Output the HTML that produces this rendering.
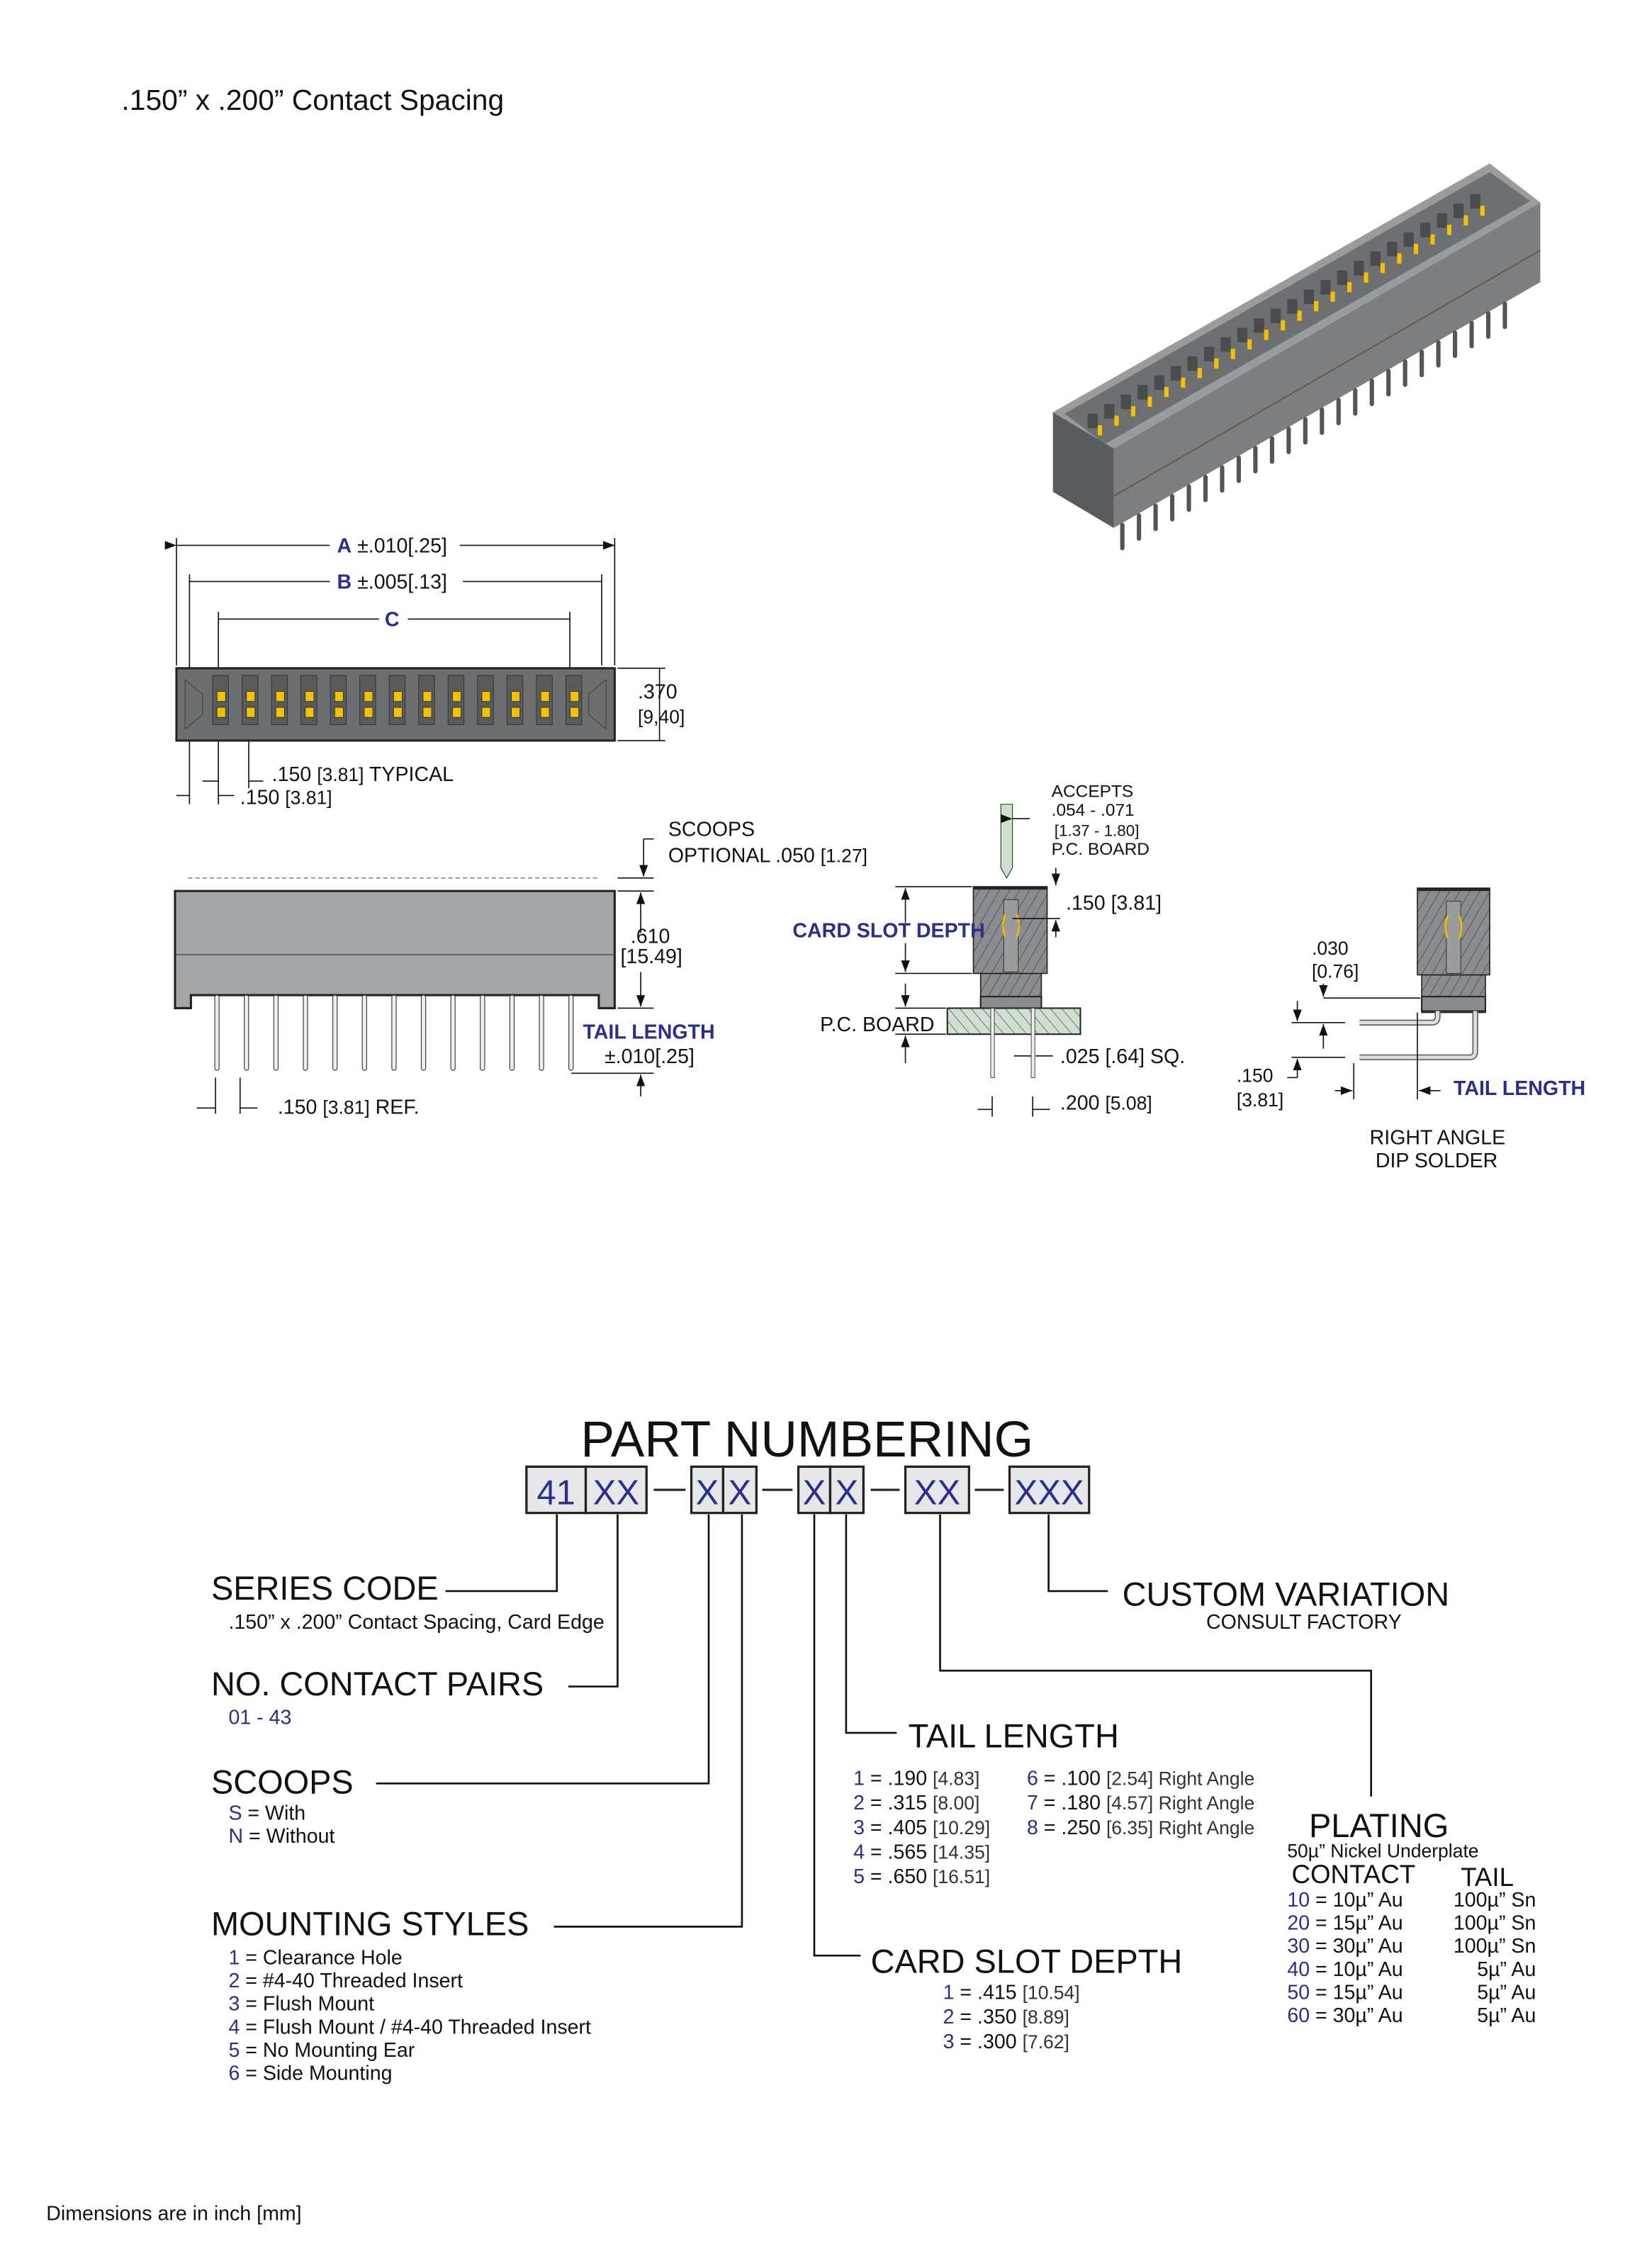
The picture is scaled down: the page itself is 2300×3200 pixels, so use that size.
<!DOCTYPE html>
<html><head><meta charset="utf-8"><style>
html,body{margin:0;padding:0;background:#fff;}
svg{display:block;}
text{font-family:"Liberation Sans",Arial,sans-serif;fill:#111;}
.b{fill:#2b2e8c;}
.n{font-family:"Liberation Sans Narrow","Liberation Sans",sans-serif;}
</style></head><body>
<svg width="2300" height="3200" viewBox="0 0 1127 1568" preserveAspectRatio="none" xmlns="http://www.w3.org/2000/svg">
<defs>
<marker id="ar" markerWidth="8" markerHeight="6" refX="8" refY="3" orient="auto" markerUnits="userSpaceOnUse"><path d="M0,0 L8,3 L0,6z" fill="#111"/></marker>
<pattern id="hatch" width="6" height="6" patternUnits="userSpaceOnUse" patternTransform="rotate(30)"><rect width="6" height="6" fill="#8a8c8f"/><line x1="0" y1="0" x2="0" y2="6" stroke="#333" stroke-width="0.6"/></pattern>
<pattern id="hatch2" width="6" height="6" patternUnits="userSpaceOnUse" patternTransform="rotate(-40)"><rect width="6" height="6" fill="#cfe0d0"/><line x1="0" y1="0" x2="0" y2="6" stroke="#333" stroke-width="0.6"/></pattern>
</defs>

<text x="84" y="76" font-size="20">.150” x .200” Contact Spacing</text>

<!-- 3D view -->
<g>
<polygon points="728,285 770,310 770,365 728,340" fill="#5a5b5d"/>
<polygon points="770,310 1065,140 1065,195 770,365" fill="#7d7e80"/>
<line x1="770" y1="343" x2="1065" y2="173" stroke="#555" stroke-width="0.8"/>
<polygon points="728,285 1030,113 1065,140 770,310" fill="#9a9b9d"/>
<polygon points="736,286 1030,119 1058,139 764,307" fill="#6e6f71"/>
<g id="pins3d" stroke="#555" stroke-width="3" stroke-linecap="round">
</g>
</g>
<script>
(function(){
 var g=document.getElementById('pins3d'),ns='http://www.w3.org/2000/svg';
 var svg=g.ownerSVGElement;
 for(var i=0;i<24;i++){
  var x=776+i*11.5,y=367-i*6.65;
  var l=document.createElementNS(ns,'line');
  l.setAttribute('x1',x);l.setAttribute('y1',y-4);l.setAttribute('x2',x);l.setAttribute('y2',y+12);g.appendChild(l);
 }
 for(var i=0;i<24;i++){
  var x=752+i*11.5,y=296-i*6.6;
  var r=document.createElementNS(ns,'rect');
  r.setAttribute('x',x);r.setAttribute('y',y-10);r.setAttribute('width',7);r.setAttribute('height',10);r.setAttribute('fill','#4a4b4d');svg.appendChild(r);
  var c=document.createElementNS(ns,'rect');
  c.setAttribute('x',x+7);c.setAttribute('y',y-2);c.setAttribute('width',3);c.setAttribute('height',7);c.setAttribute('fill','#f2c200');svg.appendChild(c);
 }
})();
</script>

<!-- Top view dims -->
<g stroke="#111" stroke-width="0.8" fill="none">
<line x1="122" y1="372" x2="122" y2="460"/><line x1="425" y1="372" x2="425" y2="460"/>
<line x1="122" y1="377" x2="228" y2="377" marker-start="url(#ar)"/>
<line x1="318" y1="377" x2="425" y2="377" marker-end="url(#ar)"/>
<line x1="131" y1="397" x2="131" y2="556"/><line x1="416" y1="397" x2="416" y2="460"/>
<line x1="131" y1="402" x2="228" y2="402"/><line x1="320" y1="402" x2="416" y2="402"/>
<line x1="151" y1="423" x2="151" y2="556"/><line x1="394" y1="423" x2="394" y2="470"/>
<line x1="151" y1="428" x2="262" y2="428"/><line x1="282" y1="428" x2="394" y2="428"/>
<line x1="427" y1="462" x2="460" y2="462"/><line x1="427" y1="512" x2="460" y2="512"/>
<line x1="456" y1="462" x2="456" y2="512"/>
<line x1="172" y1="505" x2="172" y2="545"/>
<line x1="140" y1="540" x2="151" y2="540"/><line x1="182" y1="540" x2="172" y2="540"/>
<line x1="122" y1="550" x2="131" y2="550"/><line x1="162" y1="550" x2="151" y2="550"/>
</g>
<text x="233" y="382" font-size="14"><tspan class="b" font-weight="bold">A</tspan> ±.010[.25]</text>
<text x="233" y="407" font-size="14"><tspan class="b" font-weight="bold">B</tspan> ±.005[.13]</text>
<text x="266" y="433" font-size="14" class="b" font-weight="bold">C</text>
<text x="441" y="483" font-size="14">.370</text>
<text x="441" y="500" font-size="13" class="n" fill="#333">[9,40]</text>
<text x="188" y="540" font-size="14">.150 <tspan class="n" font-size="13">[3.81]</tspan> TYPICAL</text>
<text x="166" y="556" font-size="14">.150 <tspan class="n" font-size="13">[3.81]</tspan></text>

<!-- Top view body -->
<rect x="122" y="462" width="303" height="50" fill="#6d6e70" stroke="#222" stroke-width="1.5"/>
<polygon points="128,470 140,480 140,494 128,504" fill="none" stroke="#444" stroke-width="0.6"/>
<polygon points="419,470 407,480 407,494 419,504" fill="none" stroke="#444" stroke-width="0.6"/>
<g id="tv"></g>
<script>
(function(){
 var g=document.getElementById('tv'),ns='http://www.w3.org/2000/svg';
 for(var i=0;i<13;i++){
  var x=147+i*20.35;
  var a=[[x,467,11,34,'#595a5c'],[x+3,478,6,7,'#f2c200'],[x+3,489,6,7,'#f2c200']];
  a.forEach(function(p){var r=document.createElementNS(ns,'rect');r.setAttribute('x',p[0]);r.setAttribute('y',p[1]);r.setAttribute('width',p[2]);r.setAttribute('height',p[3]);r.setAttribute('fill',p[4]);r.setAttribute('stroke','#333');r.setAttribute('stroke-width','0.5');g.appendChild(r);});
 }
})();
</script>

<!-- Side view -->
<line x1="130" y1="607" x2="413" y2="607" stroke="#888" stroke-width="0.8" stroke-dasharray="3,2"/>
<path d="M121,616 H425 V697 H414 V688 H132 V697 H121 Z" fill="#a3a5a7" stroke="#222" stroke-width="1.5"/>
<line x1="121" y1="660" x2="425" y2="660" stroke="#333" stroke-width="0.6"/>
<g id="sv"></g>
<script>
(function(){
 var g=document.getElementById('sv'),ns='http://www.w3.org/2000/svg';
 for(var i=0;i<13;i++){
  var x=150+i*20.4;
  var r=document.createElementNS(ns,'rect');r.setAttribute('x',x-1.5);r.setAttribute('y',688);r.setAttribute('width',3);r.setAttribute('height',52);r.setAttribute('rx',1.5);r.setAttribute('fill','#eee');r.setAttribute('stroke','#444');r.setAttribute('stroke-width','0.6');g.appendChild(r);
 }
})();
</script>
<g stroke="#111" stroke-width="0.8" fill="none">
<line x1="427" y1="607" x2="452" y2="607"/><line x1="427" y1="616" x2="452" y2="616"/>
<line x1="445" y1="580" x2="445" y2="606" marker-end="url(#ar)"/><line x1="445" y1="580" x2="452" y2="580"/>
<line x1="443" y1="645" x2="443" y2="617" marker-end="url(#ar)"/>
<line x1="443" y1="672" x2="443" y2="696" marker-end="url(#ar)"/>
<line x1="427" y1="697" x2="452" y2="697"/>
<line x1="395" y1="742" x2="452" y2="742"/>
<line x1="443" y1="758" x2="443" y2="743" marker-end="url(#ar)"/>
<line x1="149" y1="745" x2="149" y2="770"/><line x1="166" y1="745" x2="166" y2="770"/>
<line x1="136" y1="766" x2="149" y2="766"/><line x1="178" y1="766" x2="166" y2="766"/>
</g>
<text x="462" y="578" font-size="14">SCOOPS</text>
<text x="462" y="596" font-size="14">OPTIONAL .050 <tspan class="n" font-size="13">[1.27]</tspan></text>
<text x="436" y="652" font-size="14">.610</text>
<text x="429" y="666" font-size="14">[15.49]</text>
<text x="403" y="718" font-size="14" class="b" font-weight="bold">TAIL LENGTH</text>
<text x="418" y="735" font-size="14">±.010[.25]</text>
<text x="192" y="770" font-size="14">.150 <tspan class="n" font-size="13">[3.81]</tspan> REF.</text>

<!-- Card slot section -->
<path d="M692,556 H700 V600 L696,607 L692,600 Z" fill="#cfe0d0" stroke="#444" stroke-width="0.6"/>
<rect x="655" y="697" width="92" height="18" fill="url(#hatch2)" stroke="#222" stroke-width="1"/>
<rect x="678" y="673" width="42" height="18" fill="url(#hatch)" stroke="#222" stroke-width="0.8"/>
<rect x="678" y="689" width="42" height="8" fill="#8a8c8f" stroke="#222" stroke-width="1"/>
<rect x="673" y="613" width="51" height="60" fill="url(#hatch)" stroke="#222" stroke-width="0.8"/>
<line x1="673" y1="614" x2="724" y2="614" stroke="#222" stroke-width="2"/>
<rect x="694" y="622" width="10" height="50" fill="#9a9b9d" stroke="#333" stroke-width="0.5"/>
<path d="M695,632 Q692,640 695,648 M703,632 Q706,640 703,648" stroke="#f2c200" stroke-width="1.2" fill="none"/>
<rect x="685" y="697" width="2.5" height="48" fill="#eee" stroke="#444" stroke-width="0.5"/>
<rect x="713" y="697" width="2.5" height="48" fill="#eee" stroke="#444" stroke-width="0.5"/>
<g stroke="#111" stroke-width="0.8" fill="none">
<line x1="700" y1="566" x2="712" y2="566" marker-start="url(#ar)"/>
<line x1="619" y1="613" x2="672" y2="613"/><line x1="619" y1="673" x2="672" y2="673"/>
<line x1="626" y1="638" x2="626" y2="614" marker-end="url(#ar)"/><line x1="626" y1="652" x2="626" y2="672" marker-end="url(#ar)"/>
<line x1="730" y1="600" x2="730" y2="612" marker-end="url(#ar)"/>
<line x1="700" y1="635" x2="733" y2="635"/><line x1="730" y1="648" x2="730" y2="636" marker-end="url(#ar)"/>
<line x1="619" y1="697" x2="654" y2="697"/><line x1="619" y1="715" x2="654" y2="715"/>
<line x1="626" y1="680" x2="626" y2="696" marker-end="url(#ar)"/><line x1="626" y1="735" x2="626" y2="716" marker-end="url(#ar)"/>
<line x1="686" y1="758" x2="686" y2="772"/><line x1="714" y1="758" x2="714" y2="772"/>
<line x1="676" y1="767" x2="686" y2="767"/><line x1="726" y1="767" x2="714" y2="767"/>
<line x1="701" y1="730" x2="713" y2="730"/><line x1="728" y1="730" x2="716" y2="730"/>
</g>
<text x="727" y="551" font-size="12">ACCEPTS</text>
<text x="727" y="564" font-size="12">.054 - .071</text>
<text x="729" y="578" font-size="11" class="n">[1.37 - 1.80]</text>
<text x="727" y="591" font-size="12">P.C. BOARD</text>
<text x="737" y="629" font-size="14">.150 <tspan class="n">[3.81]</tspan></text>
<text x="548" y="648" font-size="14" class="b" font-weight="bold">CARD SLOT DEPTH</text>
<text x="567" y="713" font-size="14">P.C. BOARD</text>
<text x="733" y="735" font-size="14">.025 <tspan class="n">[.64]</tspan> SQ.</text>
<text x="733" y="767" font-size="14">.200 <tspan class="n" font-size="13">[5.08]</tspan></text>

<!-- Right angle -->
<rect x="983" y="674" width="44" height="26" fill="url(#hatch)" stroke="#222" stroke-width="0.8"/>
<rect x="983" y="689" width="44" height="10" fill="#8a8c8f" stroke="#222" stroke-width="1"/>
<rect x="980" y="614" width="50" height="60" fill="url(#hatch)" stroke="#222" stroke-width="0.8"/>
<line x1="980" y1="615" x2="1030" y2="615" stroke="#222" stroke-width="2"/>
<rect x="1000" y="623" width="10" height="50" fill="#9a9b9d" stroke="#333" stroke-width="0.5"/>
<path d="M1001,633 Q998,641 1001,649 M1009,633 Q1012,641 1009,649" stroke="#f2c200" stroke-width="1.2" fill="none"/>
<path d="M940,707 H990 Q994,707 994,703 V699" stroke="#555" stroke-width="4" fill="none"/>
<path d="M940,707 H990 Q994,707 994,703 V699" stroke="#ddd" stroke-width="2.5" fill="none"/>
<path d="M940,731 H1016 Q1020,731 1020,727 V699" stroke="#555" stroke-width="4" fill="none"/>
<path d="M940,731 H1016 Q1020,731 1020,727 V699" stroke="#ddd" stroke-width="2.5" fill="none"/>
<g stroke="#111" stroke-width="0.8" fill="none">
<line x1="915" y1="690" x2="982" y2="690"/>
<line x1="915" y1="680" x2="915" y2="689" marker-end="url(#ar)"/>
<line x1="893" y1="707" x2="930" y2="707"/><line x1="893" y1="731" x2="930" y2="731"/>
<line x1="897" y1="692" x2="897" y2="706" marker-end="url(#ar)"/>
<line x1="915" y1="725" x2="915" y2="708" marker-end="url(#ar)"/>
<line x1="897" y1="745" x2="897" y2="732" marker-end="url(#ar)"/><line x1="890" y1="745" x2="897" y2="745"/>
<line x1="936" y1="735" x2="936" y2="760"/><line x1="980" y1="700" x2="980" y2="760"/>
<line x1="923" y1="754" x2="935" y2="754" marker-end="url(#ar)"/>
<line x1="996" y1="754" x2="981" y2="754" marker-end="url(#ar)"/>
</g>
<text x="907" y="660" font-size="13">.030</text>
<text x="907" y="676" font-size="13" class="n">[0.76]</text>
<text x="855" y="748" font-size="13">.150</text>
<text x="855" y="765" font-size="13" class="n">[3.81]</text>
<text x="1005" y="757" font-size="14" class="b" font-weight="bold">TAIL LENGTH</text>
<text x="947" y="791" font-size="14">RIGHT ANGLE</text>
<text x="951" y="807" font-size="14">DIP SOLDER</text>

<!-- PART NUMBERING -->
<text x="558" y="1007" font-size="35" text-anchor="middle">PART NUMBERING</text>
<g stroke="#222" stroke-width="1.6" fill="#e6e7e8">
<rect x="364" y="1014" width="41" height="32"/><rect x="405" y="1014" width="42" height="32"/>
<rect x="478" y="1014" width="22" height="32"/><rect x="500" y="1014" width="23" height="32"/>
<rect x="552" y="1014" width="22" height="32"/><rect x="574" y="1014" width="23" height="32"/>
<rect x="626" y="1014" width="44" height="32"/>
<rect x="698" y="1014" width="55" height="32"/>
</g>
<g stroke="#222" stroke-width="1.5">
<line x1="452" y1="1030" x2="474" y2="1030"/><line x1="527" y1="1030" x2="548" y2="1030"/>
<line x1="602" y1="1030" x2="622" y2="1030"/><line x1="674" y1="1030" x2="694" y2="1030"/>
</g>
<g font-size="24" class="b" text-anchor="middle">
<text x="384.5" y="1040" class="b n">41</text><text x="426" y="1040" class="b n">XX</text>
<text x="489" y="1040" class="b n">X</text><text x="511.5" y="1040" class="b n">X</text>
<text x="563" y="1040" class="b n">X</text><text x="585.5" y="1040" class="b n">X</text>
<text x="648" y="1040" class="b n">XX</text><text x="725.5" y="1040" class="b n">XXX</text>
</g>
<g stroke="#111" stroke-width="1.3" fill="none">
<polyline points="385,1047 385,1100 308,1100"/>
<polyline points="427,1047 427,1166 393,1166"/>
<polyline points="490,1047 490,1233 260,1233"/>
<polyline points="513,1047 513,1332 383,1332"/>
<polyline points="563,1047 563,1352 595,1352"/>
<polyline points="585,1047 585,1198 620,1198"/>
<polyline points="650,1047 650,1155 948,1155 948,1242"/>
<polyline points="725,1047 725,1100 766,1100"/>
</g>

<text x="146" y="1106" font-size="23">SERIES CODE</text>
<text x="158" y="1126" font-size="14">.150” x .200” Contact Spacing, Card Edge</text>
<text x="146" y="1172" font-size="23">NO. CONTACT PAIRS</text>
<text x="158" y="1192" font-size="14" class="b">01 - 43</text>
<text x="146" y="1240" font-size="23">SCOOPS</text>
<text x="158" y="1258" font-size="14"><tspan class="b">S</tspan> = With</text>
<text x="158" y="1274" font-size="14"><tspan class="b">N</tspan> = Without</text>
<text x="146" y="1338" font-size="23">MOUNTING STYLES</text>
<g font-size="14">
<text x="158" y="1358"><tspan class="b">1</tspan> = Clearance Hole</text>
<text x="158" y="1374"><tspan class="b">2</tspan> = #4-40 Threaded Insert</text>
<text x="158" y="1390"><tspan class="b">3</tspan> = Flush Mount</text>
<text x="158" y="1406"><tspan class="b">4</tspan> = Flush Mount / #4-40 Threaded Insert</text>
<text x="158" y="1422"><tspan class="b">5</tspan> = No Mounting Ear</text>
<text x="158" y="1438"><tspan class="b">6</tspan> = Side Mounting</text>
</g>
<text x="776" y="1110" font-size="23">CUSTOM VARIATION</text>
<text x="834" y="1126" font-size="14">CONSULT FACTORY</text>
<text x="628" y="1208" font-size="23">TAIL LENGTH</text>
<g font-size="14">
<text x="590" y="1234"><tspan class="b">1</tspan> = .190 <tspan class="n" font-size="13" fill="#333">[4.83]</tspan></text>
<text x="590" y="1251"><tspan class="b">2</tspan> = .315 <tspan class="n" font-size="13" fill="#333">[8.00]</tspan></text>
<text x="590" y="1268"><tspan class="b">3</tspan> = .405 <tspan class="n" font-size="13" fill="#333">[10.29]</tspan></text>
<text x="590" y="1285"><tspan class="b">4</tspan> = .565 <tspan class="n" font-size="13" fill="#333">[14.35]</tspan></text>
<text x="590" y="1302"><tspan class="b">5</tspan> = .650 <tspan class="n" font-size="13" fill="#333">[16.51]</tspan></text>
<text x="710" y="1234"><tspan class="b">6</tspan> = .100 <tspan class="n" font-size="13" fill="#333">[2.54] Right Angle</tspan></text>
<text x="710" y="1251"><tspan class="b">7</tspan> = .180 <tspan class="n" font-size="13" fill="#333">[4.57] Right Angle</tspan></text>
<text x="710" y="1268"><tspan class="b">8</tspan> = .250 <tspan class="n" font-size="13" fill="#333">[6.35] Right Angle</tspan></text>
</g>
<text x="602" y="1364" font-size="23">CARD SLOT DEPTH</text>
<g font-size="14">
<text x="652" y="1382"><tspan class="b">1</tspan> = .415 <tspan class="n" font-size="13" fill="#333">[10.54]</tspan></text>
<text x="652" y="1399"><tspan class="b">2</tspan> = .350 <tspan class="n" font-size="13" fill="#333">[8.89]</tspan></text>
<text x="652" y="1416"><tspan class="b">3</tspan> = .300 <tspan class="n" font-size="13" fill="#333">[7.62]</tspan></text>
</g>
<text x="905" y="1270" font-size="23">PLATING</text>
<text x="890" y="1284" font-size="13">50µ” Nickel Underplate</text>
<text x="893" y="1302" font-size="18">CONTACT</text>
<text x="1010" y="1304" font-size="18">TAIL</text>
<g font-size="14">
<text x="890" y="1318"><tspan class="b">10</tspan> = 10µ” Au</text>
<text x="890" y="1334"><tspan class="b">20</tspan> = 15µ” Au</text>
<text x="890" y="1350"><tspan class="b">30</tspan> = 30µ” Au</text>
<text x="890" y="1366"><tspan class="b">40</tspan> = 10µ” Au</text>
<text x="890" y="1382"><tspan class="b">50</tspan> = 15µ” Au</text>
<text x="890" y="1398"><tspan class="b">60</tspan> = 30µ” Au</text>
</g>
<g font-size="14" text-anchor="end">
<text x="1062" y="1318">100µ” Sn</text>
<text x="1062" y="1334">100µ” Sn</text>
<text x="1062" y="1350">100µ” Sn</text>
<text x="1062" y="1366">5µ” Au</text>
<text x="1062" y="1382">5µ” Au</text>
<text x="1062" y="1398">5µ” Au</text>
</g>

<text x="32" y="1535" font-size="14">Dimensions are in inch [mm]</text>
</svg>
</body></html>
